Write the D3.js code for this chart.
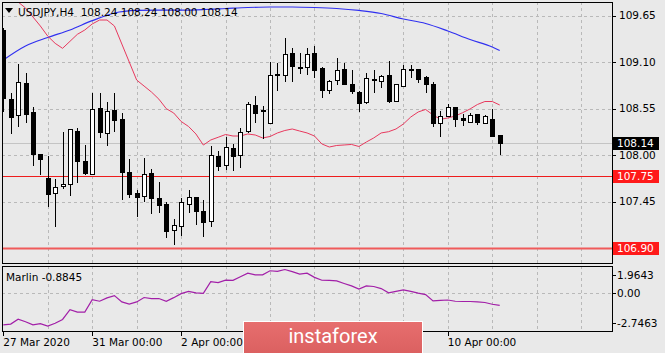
<!DOCTYPE html>
<html>
<head>
<meta charset="utf-8">
<script src="https://cdn.jsdelivr.net/npm/d3@7"></script>
<style>
  body { margin: 0; background: #e9e9e9; }
  svg { display: block; font-family: "DejaVu Sans", sans-serif; }
</style>
</head>
<body>
<div id="chart"></div>
<script>
// USDJPY H4 candles (bar index = position)
const opens  = [109.48,108.665,108.468,108.85,108.515,108.014,107.726,107.549,107.628,107.659,108.29,107.931,107.778,108.554,108.259,108.535,108.424,107.805,107.557,107.517,107.786,107.498,107.423,107.115,107.155,107.431,107.502,107.344,107.222,107.991,107.876,108.081,107.998,108.286,108.594,108.535,108.377,108.955,108.945,109.205,109.047,109.047,109.213,109.035,108.767,108.889,109.019,108.838,108.751,108.625,108.90,108.878,108.949,108.641,108.822,109.02,109.015,108.92,108.842,108.385,108.468,108.566,108.436,108.397,108.483,108.377,108.424,108.24];
const highs  = [109.50,108.73,109.079,108.968,108.566,108.02,107.991,107.718,108.27,108.31,108.318,108.117,108.74,108.74,108.633,108.74,108.503,107.951,107.588,107.971,107.837,107.687,107.45,107.24,107.489,107.588,107.51,107.47,108.109,108.05,108.211,108.132,108.318,108.625,108.70,108.582,109.099,109.095,109.39,109.272,109.205,109.272,109.291,109.04,108.89,109.154,109.094,109.008,108.76,108.976,109.008,108.95,109.114,108.84,109.067,109.067,109.02,108.937,108.87,108.527,108.605,108.575,108.483,108.495,108.487,108.475,108.542,108.24];
const lows   = [108.515,108.247,108.33,108.377,107.876,107.766,107.383,107.147,107.596,107.521,107.667,107.766,107.766,108.199,108.109,108.278,107.47,107.49,107.273,107.45,107.301,107.32,107.025,106.94,107.044,107.32,107.174,107.036,107.155,107.817,107.825,107.817,107.845,108.259,108.377,108.192,108.37,108.759,108.862,108.862,108.96,108.949,108.909,108.68,108.724,108.83,108.83,108.724,108.515,108.60,108.732,108.791,108.613,108.633,108.81,108.909,108.85,108.74,108.337,108.219,108.448,108.337,108.345,108.377,108.357,108.37,108.219,108.00];
const closes = [108.67,108.456,108.862,108.487,108.022,107.959,107.541,107.62,107.655,108.306,107.935,107.785,108.546,108.274,108.523,108.416,107.793,107.541,107.51,107.778,107.49,107.411,107.103,107.174,107.442,107.51,107.332,107.214,107.998,107.876,108.093,107.991,108.27,108.606,108.503,108.52,108.949,108.945,109.197,109.055,109.03,109.197,109.016,108.779,108.878,109.008,108.842,108.751,108.621,108.909,108.895,108.941,108.641,108.838,109.019,109.01,108.897,108.842,108.385,108.464,108.574,108.428,108.408,108.475,108.385,108.464,108.227,108.14];

// short moving average (red), one value per bar
const maRed = [109.93,109.883,109.812,109.741,109.635,109.528,109.408,109.323,109.264,109.347,109.43,109.481,109.552,109.599,109.599,109.528,109.315,109.102,108.889,108.818,108.747,108.663,108.55,108.499,108.399,108.34,108.251,108.12,108.18,108.212,108.245,108.227,108.227,108.251,108.239,108.204,108.221,108.263,108.292,108.31,108.286,108.263,108.227,108.133,108.097,108.115,108.121,108.127,108.103,108.156,108.204,108.263,108.278,108.31,108.369,108.452,108.511,108.541,108.476,108.425,108.44,108.464,108.503,108.547,108.6,108.635,108.635,108.594];

// long moving average (blue), read at these bars
const maBlueBars = [0,3,6,9,12,15,18,21,24,27,30,33,36,39,42,45,48,51,54,57,60,63,66,67];
const maBlue = [109.126,109.292,109.392,109.481,109.591,109.682,109.712,109.717,109.717,109.723,109.735,109.747,109.753,109.753,109.747,109.735,109.712,109.676,109.611,109.558,109.469,109.368,109.28,109.238];

// Marlin oscillator, one value per bar
const marlin = [-2.296,-2.245,-1.89,-2.08,-2.30,-2.21,-2.39,-2.19,-1.91,-1.20,-1.38,-1.38,-0.48,-0.59,-0.35,-0.18,-0.64,-0.79,-0.64,-0.32,-0.40,-0.39,-0.59,-0.33,-0.04,0.13,0.02,-0.02,0.83,0.76,0.94,0.92,1.18,1.44,1.32,1.32,1.62,1.57,1.71,1.56,1.38,1.44,1.14,0.93,0.92,0.88,0.70,0.52,0.29,0.52,0.48,0.33,0.02,0.13,0.24,0.13,0.00,-0.11,-0.57,-0.53,-0.50,-0.59,-0.61,-0.61,-0.63,-0.68,-0.81,-0.8845];

const priceTicks = [109.65, 109.10, 108.55, 108.00, 107.45];
const levels = [107.75, 106.90];
const lastPrice = 108.14;
const marlinTicks = [1.9643, 0.00, -2.7463];
// labels at bars 36 and 48 sit under the watermark and are not visible
const timeLabels = ["27 Mar 2020", "31 Mar 00:00", "2 Apr 00:00", "10 Apr 00:00"];
const timeLabelBars = [0, 12, 24, 60];
const gridBars = d3.range(6, 84, 6);

const width = 665, height = 353;
const main = { left: 2, right: 612, top: 2, bottom: 263 };
const ind = { top: 266, bottom: 331 };

const svg = d3.select("#chart").append("svg")
  .attr("width", width).attr("height", height);

svg.append("rect").attr("width", width).attr("height", height).attr("fill", "#e9e9e9");

const x = d3.scaleLinear().domain([0, 67]).range([3.3, 499.7]);
const y = d3.scaleLinear().domain([106.725, 109.812]).range([main.bottom, main.top]);
const yi = d3.scaleLinear().domain([-2.7463, 1.9643]).range([ind.bottom, ind.top]);
const px = v => Math.round(v) + 0.5;

svg.append("clipPath").attr("id", "clipMain").append("rect")
  .attr("x", main.left).attr("y", main.top)
  .attr("width", main.right - main.left).attr("height", main.bottom - main.top);
svg.append("clipPath").attr("id", "clipInd").append("rect")
  .attr("x", main.left).attr("y", ind.top)
  .attr("width", main.right - main.left).attr("height", ind.bottom - ind.top);

// grids
const grid = svg.append("g").attr("stroke", "#b9b9b9").attr("stroke-dasharray", "3,3");
grid.selectAll("line.v").data(gridBars.filter(b => x(b) < main.right)).enter().append("line")
  .attr("x1", d => px(x(d))).attr("x2", d => px(x(d)))
  .attr("y1", main.top).attr("y2", main.bottom);
grid.selectAll("line.vi").data(gridBars.filter(b => x(b) < main.right)).enter().append("line")
  .attr("x1", d => px(x(d))).attr("x2", d => px(x(d)))
  .attr("y1", ind.top).attr("y2", ind.bottom);
grid.selectAll("line.h").data(priceTicks).enter().append("line")
  .attr("x1", main.left).attr("x2", main.right)
  .attr("y1", d => px(y(d))).attr("y2", d => px(y(d)));
grid.append("line")
  .attr("x1", main.left).attr("x2", main.right)
  .attr("y1", px(yi(0))).attr("y2", px(yi(0)));

const plot = svg.append("g").attr("clip-path", "url(#clipMain)");

// current price line
plot.append("line")
  .attr("x1", main.left).attr("x2", main.right)
  .attr("y1", px(y(lastPrice))).attr("y2", px(y(lastPrice)))
  .attr("stroke", "#c4c4c4");

// levels
plot.selectAll("line.level").data(levels).enter().append("line")
  .attr("x1", main.left).attr("x2", main.right)
  .attr("y1", d => px(y(d))).attr("y2", d => px(y(d)))
  .attr("stroke", (d, i) => i === 0 ? "#ee1c1c" : "#f05a5a")
  .attr("stroke-width", (d, i) => i === 0 ? 1 : 2);

// moving averages
plot.append("path")
  .datum(maBlue)
  .attr("fill", "none").attr("stroke", "#3030f0").attr("stroke-width", 1.2)
  .attr("d", d3.line().x((d, i) => x(maBlueBars[i])).y(d => y(d)).curve(d3.curveMonotoneX));

plot.append("path")
  .datum(maRed)
  .attr("fill", "none").attr("stroke", "#e8395e").attr("stroke-width", 1)
  .attr("d", d3.line().x((d, i) => x(i)).y(d => y(d)));

// candles
const candles = plot.append("g").attr("shape-rendering", "crispEdges");
opens.forEach((o, i) => {
  const c = closes[i];
  const cx = Math.round(x(i));
  candles.append("line")
    .attr("x1", cx + 0.5).attr("x2", cx + 0.5)
    .attr("y1", y(highs[i])).attr("y2", y(lows[i]))
    .attr("stroke", "#000");
  const top = y(Math.max(o, c)), bot = y(Math.min(o, c));
  candles.append("rect")
    .attr("x", cx - 1.5).attr("width", 4)
    .attr("y", Math.round(top) + 0.5).attr("height", Math.max(1, Math.round(bot - top)))
    .attr("fill", c >= o ? "#fff" : "#000")
    .attr("stroke", "#000");
});

// marlin
svg.append("path")
  .datum(marlin)
  .attr("clip-path", "url(#clipInd)")
  .attr("fill", "none").attr("stroke", "#a21fa8").attr("stroke-width", 1.2)
  .attr("d", d3.line().x((d, i) => x(i)).y(d => yi(d)));

// frames
svg.append("rect").attr("x", main.left + 0.5).attr("y", main.top + 0.5)
  .attr("width", main.right - main.left).attr("height", main.bottom - main.top)
  .attr("fill", "none").attr("stroke", "#000");
svg.append("rect").attr("x", main.left + 0.5).attr("y", ind.top + 0.5)
  .attr("width", main.right - main.left).attr("height", ind.bottom - ind.top)
  .attr("fill", "none").attr("stroke", "#000");

// right price axis
const axisR = svg.append("g").attr("font-size", "10.5px").attr("fill", "#000");
priceTicks.forEach(t => {
  axisR.append("line").attr("x1", main.right).attr("x2", main.right + 4)
    .attr("y1", px(y(t))).attr("y2", px(y(t))).attr("stroke", "#000");
  axisR.append("text").attr("x", 619).attr("y", y(t)).attr("dy", "0.35em").text(t.toFixed(2));
});

function priceTag(v, bg) {
  const yy = Math.round(y(v));
  axisR.append("rect").attr("x", 613).attr("y", yy - 6).attr("width", 46).attr("height", 13).attr("fill", bg);
  axisR.append("text").attr("x", 617).attr("y", yy).attr("dy", "0.38em").attr("fill", "#fff").text(v.toFixed(2));
}
priceTag(lastPrice, "#000");
levels.forEach(l => priceTag(l, "#ff1a1a"));

// marlin axis
const marlinOffsets = [9, 0, -8];
marlinTicks.forEach((t, i) => {
  axisR.append("line").attr("x1", main.right).attr("x2", main.right + 4)
    .attr("y1", px(yi(t) + marlinOffsets[i])).attr("y2", px(yi(t) + marlinOffsets[i])).attr("stroke", "#000");
  axisR.append("text").attr("x", 617).attr("y", yi(t) + marlinOffsets[i]).attr("dy", "0.35em")
    .text(t === 0 ? "0.00" : t.toFixed(4));
});

// time axis
const axisB = svg.append("g").attr("font-size", "10.5px").attr("fill", "#000");
[0, 12, 24, 36, 48, 60].forEach(b => {
  axisB.append("line").attr("x1", px(x(b))).attr("x2", px(x(b)))
    .attr("y1", ind.bottom).attr("y2", ind.bottom + 5).attr("stroke", "#000");
});
timeLabelBars.forEach((b, i) => {
  axisB.append("text").attr("x", x(b)).attr("y", 346).text(timeLabels[i]);
});

// titles
svg.append("path").attr("d", "M5,8 L13,8 L9,13 Z").attr("fill", "#000");
svg.append("text").attr("x", 18).attr("y", 16).attr("font-size", "10.5px")
  .attr("xml:space", "preserve")
  .text("USDJPY,H4  108.24 108.24 108.00 108.14");
svg.append("text").attr("x", 6).attr("y", 281).attr("font-size", "10.5px")
  .text("Marlin -0.8845");

// watermark
const grad = svg.append("defs").append("linearGradient").attr("id", "logoGrad")
  .attr("x1", 0).attr("y1", 0).attr("x2", 0).attr("y2", 1);
grad.append("stop").attr("offset", "0%").attr("stop-color", "#e76e6e");
grad.append("stop").attr("offset", "100%").attr("stop-color", "#d85d5d");
svg.append("rect").attr("x", 243.5).attr("y", 321.5).attr("width", 179).attr("height", 40)
  .attr("fill", "url(#logoGrad)").attr("stroke", "#fff");
svg.append("text").attr("x", 333).attr("y", 342.5).attr("text-anchor", "middle")
  .attr("font-family", "Roboto, sans-serif").attr("font-size", "20px").attr("fill", "#fff")
  .text("instaforex");
</script>
</body>
</html>
